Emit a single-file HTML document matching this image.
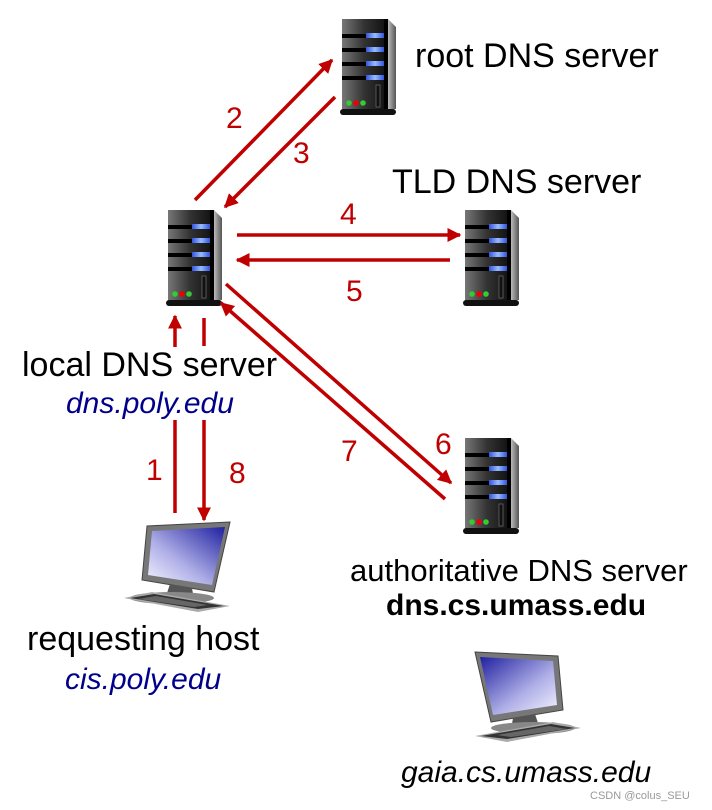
<!DOCTYPE html>
<html><head><meta charset="utf-8"><style>
html,body{margin:0;padding:0;background:#fff;}
body{width:712px;height:810px;position:relative;overflow:hidden;font-family:"Liberation Sans",Arial,sans-serif;}
.t{position:absolute;white-space:nowrap;line-height:1.15;}
.n{position:absolute;font-size:30px;color:#c00000;line-height:1.15;}
</style></head><body>
<svg width="712" height="810" style="position:absolute;left:0;top:0">
<defs>
<linearGradient id="body" x1="0" x2="1"><stop offset="0" stop-color="#777"/><stop offset="0.5" stop-color="#333"/><stop offset="1" stop-color="#111"/></linearGradient>
<linearGradient id="side" x1="0" x2="1"><stop offset="0" stop-color="#bbb"/><stop offset="1" stop-color="#555"/></linearGradient>
<linearGradient id="blu" x1="0" x2="1"><stop offset="0" stop-color="#3355dd"/><stop offset="0.5" stop-color="#99bbff"/><stop offset="1" stop-color="#3355dd"/></linearGradient>
<linearGradient id="scr" x1="0" y1="0" x2="1" y2="1"><stop offset="0" stop-color="#2020a0"/><stop offset="0.6" stop-color="#b0b0e8"/><stop offset="1" stop-color="#f4f4ff"/></linearGradient>
<g id="srv">
<rect x="2" y="2" width="44" height="90" fill="url(#body)"/>
<polygon points="48,2 56,10 56,92 48,92" fill="url(#side)"/>
<rect x="44" y="2" width="4" height="90" fill="#000"/>
<g fill="#000"><rect x="2" y="17" width="42" height="4"/><rect x="2" y="31" width="42" height="4"/><rect x="2" y="45" width="42" height="4"/><rect x="2" y="59" width="42" height="4"/></g>
<g fill="url(#blu)"><rect x="26" y="16" width="18" height="5"/><rect x="26" y="30" width="18" height="5"/><rect x="26" y="44" width="18" height="5"/><rect x="26" y="58" width="18" height="5"/></g>
<rect x="36" y="68" width="4" height="22" fill="#111" stroke="#666" stroke-width="0.8"/>
<circle cx="9" cy="86" r="2.8" fill="#3c3"/><circle cx="16" cy="86" r="2.8" fill="#e00"/><circle cx="23" cy="86" r="2.8" fill="#3c3"/>
<rect x="0" y="92" width="56" height="6" rx="3" fill="#111"/>
</g>
<g id="pc">
<polygon points="2,2 85,6 90,60 18,72" fill="#777" stroke="#444" stroke-width="1"/>
<polygon points="7,7 80,11 84,55 20,65" fill="url(#scr)"/>
<polygon points="40,68 62,64 66,76 38,80" fill="#555"/>
<ellipse cx="60" cy="78" rx="42" ry="6" fill="#888"/>
<polygon points="2,86 80,72 108,78 34,92" fill="#aaa"/>
<polygon points="8,86 78,74 102,78 34,89" fill="#333"/>
<polygon points="24,85 76,76 94,79 38,87" fill="#666"/>
</g>
<marker id="ah" viewBox="0 0 10 10" refX="9" refY="5" markerWidth="4" markerHeight="4" orient="auto-start-reverse" markerUnits="strokeWidth"><path d="M0,0 L10,5 L0,10 z" fill="#c00000"/></marker>
</defs>
<use href="#srv" x="340" y="17"/>
<use href="#srv" x="166" y="208"/>
<use href="#srv" x="463" y="208"/>
<use href="#srv" x="463" y="436"/>
<use href="#pc" x="473" y="650"/>
<use href="#pc" transform="translate(232,520) scale(-1,1)"/>
<g stroke="#c00000" stroke-width="3.5" fill="none">
<line x1="195" y1="200" x2="332" y2="60" marker-end="url(#ah)"/>
<line x1="335" y1="97" x2="225" y2="207" marker-end="url(#ah)"/>
<line x1="237" y1="235" x2="460" y2="235" marker-end="url(#ah)"/>
<line x1="450" y1="260" x2="237" y2="260" marker-end="url(#ah)"/>
<line x1="226" y1="284" x2="451" y2="483" marker-end="url(#ah)"/>
<line x1="445" y1="499" x2="221" y2="303" marker-end="url(#ah)"/>
<line x1="175" y1="347" x2="175" y2="316" marker-end="url(#ah)"/>
<line x1="175" y1="420" x2="175" y2="513"/>
<line x1="204" y1="318" x2="204" y2="346"/>
<line x1="204" y1="420" x2="204" y2="520" marker-end="url(#ah)"/>
</g>
</svg>
<div class="t" style="left:415px;top:37px;font-size:34px;">root DNS server</div>
<div class="t" style="left:392px;top:163px;font-size:34px;">TLD DNS server</div>
<div class="t" style="left:22px;top:346px;font-size:34px;">local DNS server</div>
<div class="t" style="left:66px;top:387px;font-size:30px;font-style:italic;color:#00008b;">dns.poly.edu</div>
<div class="t" style="left:350px;top:553px;font-size:31px;">authoritative DNS server</div>
<div class="t" style="left:386px;top:589px;font-size:30px;font-weight:bold;">dns.cs.umass.edu</div>
<div class="t" style="left:27px;top:620px;font-size:34px;">requesting host</div>
<div class="t" style="left:65px;top:663px;font-size:30px;font-style:italic;color:#00008b;">cis.poly.edu</div>
<div class="t" style="left:401px;top:756px;font-size:30px;font-style:italic;color:#000;">gaia.cs.umass.edu</div>
<div class="n" style="left:226px;top:102px;">2</div>
<div class="n" style="left:293px;top:137px;">3</div>
<div class="n" style="left:340px;top:198px;">4</div>
<div class="n" style="left:346px;top:275px;">5</div>
<div class="n" style="left:435px;top:428px;">6</div>
<div class="n" style="left:341px;top:435px;">7</div>
<div class="n" style="left:146px;top:454px;">1</div>
<div class="n" style="left:229px;top:457px;">8</div>
<div class="t" style="left:590px;top:790px;font-size:11px;color:#999;">CSDN @colus_SEU</div>
</body></html>
